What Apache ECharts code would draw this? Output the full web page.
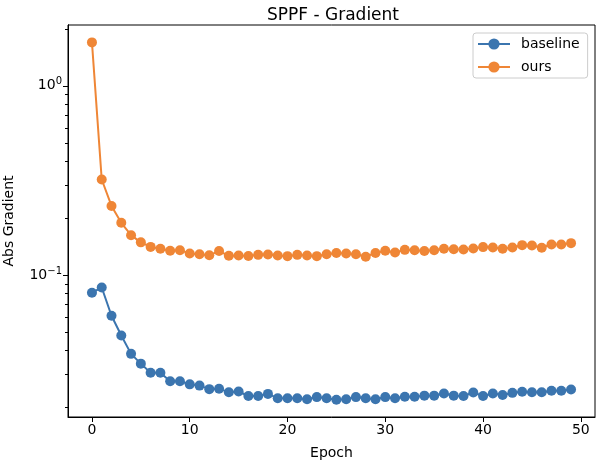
<!DOCTYPE html>
<html>
<head>
<meta charset="utf-8">
<script src="https://cdn.jsdelivr.net/npm/echarts@6/dist/echarts.min.js"></script>
<style>
html,body{margin:0;padding:0;background:#fff;}
#chart{width:596px;height:462px;}
</style>
</head>
<body>
<div id="chart"></div>
<script>
const epochs = [0,1,2,3,4,5,6,7,8,9,10,11,12,13,14,15,16,17,18,19,20,21,22,23,24,25,26,27,28,29,30,31,32,33,34,35,36,37,38,39,40,41,42,43,44,45,46,47,48,49];
const baseline = [0.0807,0.0861,0.0610,0.0480,0.0384,0.0341,0.0305,0.0305,0.0275,0.0275,
  0.0265,0.0261,0.0250,0.0251,0.0241,0.0243,0.0230,0.0230,0.0236,0.0224,
  0.0224,0.0224,0.0221,0.0227,0.0224,0.0220,0.0221,0.0227,0.0224,0.0221,
  0.0227,0.0224,0.0228,0.0228,0.0231,0.0231,0.0237,0.0231,0.0230,0.0240,
  0.0230,0.0237,0.0233,0.0239,0.0242,0.0241,0.0241,0.0245,0.0245,0.0249];
const ours = [1.695,0.320,0.232,0.189,0.1626,0.149,0.141,0.1377,0.1345,0.1355,
  0.130,0.129,0.1275,0.134,0.1265,0.127,0.1263,0.128,0.1285,0.127,
  0.126,0.128,0.127,0.126,0.129,0.131,0.130,0.129,0.125,0.131,
  0.1345,0.1318,0.136,0.1355,0.134,0.1355,0.1377,0.137,0.1365,0.1384,
  0.1406,0.140,0.1377,0.140,0.144,0.1435,0.1395,0.1453,0.1453,0.1476];
const xTicks = [0,10,20,30,40,50];
const yMajorTicks = [0.1, 1];
const yMinorTicks = [0.02,0.03,0.04,0.05,0.06,0.07,0.08,0.09,0.2,0.3,0.4,0.5,0.6,0.7,0.8,0.9,2];
const yRange = [0.01782, 2.094];
const xRange = [-2.45, 51.45];

const FONT = 'DejaVu Sans';
const lg = v => Math.log10(v);
const toPairs = arr => epochs.map((e, i) => [e, lg(arr[i])]);

const chart = echarts.init(document.getElementById('chart'), null, {renderer: 'canvas'});
chart.setOption({
  animation: false,
  backgroundColor: '#fff',
  textStyle: {fontFamily: FONT, color: '#000'},
  title: {
    text: 'SPPF - Gradient',
    left: 262, top: 2,
    textStyle: {fontFamily: FONT, fontSize: 17, fontWeight: 'normal', color: '#000'}
  },
  legend: {
    data: ['baseline', 'ours'],
    orient: 'vertical',
    left: 473, top: 33,
    padding: [4, 8, 4, 4],
    itemWidth: 32, itemHeight: 14, itemGap: 9,
    backgroundColor: 'rgba(255,255,255,0.8)',
    borderColor: '#cccccc', borderWidth: 1, borderRadius: 3,
    textStyle: {fontFamily: FONT, fontSize: 14, color: '#000', padding: [0,0,0,6]}
  },
  grid: {left: 68, right: 1, top: 25, bottom: 45, show: true, borderColor: '#000', borderWidth: 1, containLabel: false, outerBoundsMode: 'none'},
  xAxis: {
    type: 'value', min: xRange[0], max: xRange[1],
    name: 'Epoch', nameLocation: 'middle', nameGap: 29,
    nameTextStyle: {fontFamily: FONT, fontSize: 14, color: '#000'},
    axisLine: {show: true, onZero: false, lineStyle: {color: '#000', width: 1}},
    axisTick: {show: true, length: 5, lineStyle: {color: '#000', width: 1}, customValues: xTicks},
    axisLabel: {show: true, margin: 6, fontFamily: FONT, fontSize: 14, color: '#000', customValues: xTicks},
    splitLine: {show: false}
  },
  yAxis: [
    {
      type: 'value', min: lg(yRange[0]), max: lg(yRange[1]), position: 'left',
      name: 'Abs Gradient', nameLocation: 'middle', nameGap: 52, nameRotate: 90,
      nameTextStyle: {fontFamily: FONT, fontSize: 14, color: '#000'},
      axisLine: {show: true, onZero: false, lineStyle: {color: '#000', width: 1}},
      axisTick: {show: true, length: 5, lineStyle: {color: '#000', width: 1}, customValues: yMajorTicks.map(lg)},
      axisLabel: {
        show: true, margin: 6, customValues: yMajorTicks.map(lg),
        formatter: v => { const e = Math.round(v); return '{b|10}{s|' + (e < 0 ? '\u2212' + (-e) : e) + '}'; },
        rich: {
          b: {fontFamily: FONT, fontSize: 14, color: '#000'},
          s: {fontFamily: FONT, fontSize: 10, color: '#000', verticalAlign: 'top', padding: [0, 0, 8, 0]}
        }
      },
      splitLine: {show: false}
    },
    {
      type: 'value', min: lg(yRange[0]), max: lg(yRange[1]), position: 'left', offset: 0,
      axisLine: {show: true, onZero: false, lineStyle: {color: '#000', width: 1}},
      axisTick: {show: true, length: 3, lineStyle: {color: '#000', width: 1}, customValues: yMinorTicks.map(lg)},
      axisLabel: {show: false},
      splitLine: {show: false}
    }
  ],
  series: [
    {
      name: 'baseline', type: 'line', data: toPairs(baseline),
      symbol: 'circle', symbolSize: 10, showSymbol: true,
      itemStyle: {color: '#3b75af'}, lineStyle: {color: '#3b75af', width: 2}, z: 2
    },
    {
      name: 'ours', type: 'line', data: toPairs(ours),
      symbol: 'circle', symbolSize: 10, showSymbol: true,
      itemStyle: {color: '#ef8636'}, lineStyle: {color: '#ef8636', width: 2}, z: 3
    }
  ]
});
</script>
</body>
</html>
